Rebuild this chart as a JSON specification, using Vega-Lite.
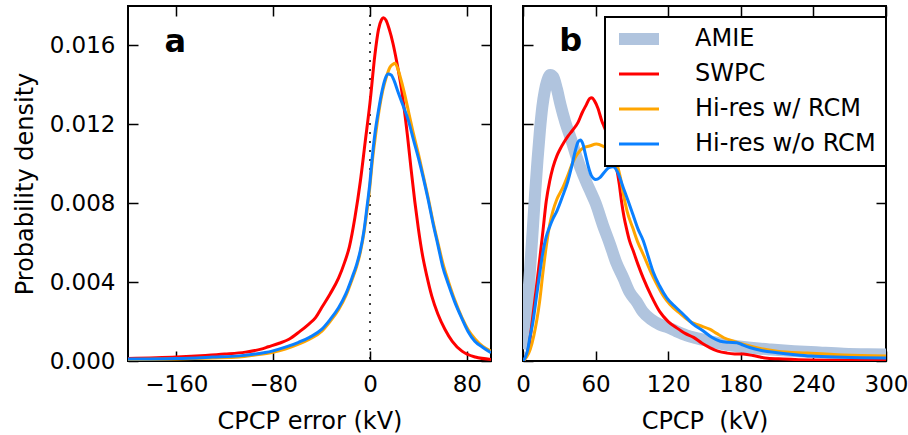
{
  "$schema": "https://vega.github.io/schema/vega-lite/v6.json",
  "padding": {"left": 12, "top": 4, "right": 0, "bottom": 3},
  "config": {
    "font": "DejaVu Sans",
    "view": {"stroke": "black", "strokeWidth": 2},
    "axis": {"domain": false, "ticks": false, "labelFontSize": 23, "labelColor": "black", "titleFontSize": 24, "titleFontWeight": "normal", "titleColor": "black", "labelFlush": false, "labelOverlap": false}
  },
  "datasets": {
    "a": [
      {"series": "SWPC", "x": -200, "y": 0.00013}, {"series": "SWPC", "x": -160, "y": 0.0002}, {"series": "SWPC", "x": -136, "y": 0.00028}, {"series": "SWPC", "x": -120, "y": 0.00035}, {"series": "SWPC", "x": -103, "y": 0.00045}, {"series": "SWPC", "x": -90, "y": 0.0006}, {"series": "SWPC", "x": -84, "y": 0.00072}, {"series": "SWPC", "x": -75, "y": 0.0009}, {"series": "SWPC", "x": -67, "y": 0.0011}, {"series": "SWPC", "x": -58, "y": 0.0015}, {"series": "SWPC", "x": -51, "y": 0.00185}, {"series": "SWPC", "x": -45, "y": 0.0022}, {"series": "SWPC", "x": -40, "y": 0.0027}, {"series": "SWPC", "x": -33, "y": 0.0034}, {"series": "SWPC", "x": -26, "y": 0.0042}, {"series": "SWPC", "x": -21, "y": 0.005}, {"series": "SWPC", "x": -17, "y": 0.0058}, {"series": "SWPC", "x": -12.4, "y": 0.0073}, {"series": "SWPC", "x": -8, "y": 0.0091}, {"series": "SWPC", "x": -4, "y": 0.0111}, {"series": "SWPC", "x": 0, "y": 0.0131}, {"series": "SWPC", "x": 4, "y": 0.0155}, {"series": "SWPC", "x": 7, "y": 0.0168}, {"series": "SWPC", "x": 9.5, "y": 0.0173}, {"series": "SWPC", "x": 11, "y": 0.0174}, {"series": "SWPC", "x": 13, "y": 0.0173}, {"series": "SWPC", "x": 16, "y": 0.0168}, {"series": "SWPC", "x": 19, "y": 0.0161}, {"series": "SWPC", "x": 22, "y": 0.0152}, {"series": "SWPC", "x": 26, "y": 0.0138}, {"series": "SWPC", "x": 31, "y": 0.0114}, {"series": "SWPC", "x": 34, "y": 0.0097}, {"series": "SWPC", "x": 37, "y": 0.0081}, {"series": "SWPC", "x": 40, "y": 0.0067}, {"series": "SWPC", "x": 43, "y": 0.0055}, {"series": "SWPC", "x": 47, "y": 0.0043}, {"series": "SWPC", "x": 51, "y": 0.0033}, {"series": "SWPC", "x": 56, "y": 0.0024}, {"series": "SWPC", "x": 62, "y": 0.0016}, {"series": "SWPC", "x": 68, "y": 0.001}, {"series": "SWPC", "x": 76, "y": 0.0005}, {"series": "SWPC", "x": 87, "y": 0.0002}, {"series": "SWPC", "x": 100, "y": 0.00008},
      {"series": "Hi-res w/ RCM", "x": -200, "y": 0.00007}, {"series": "Hi-res w/ RCM", "x": -160, "y": 0.0001}, {"series": "Hi-res w/ RCM", "x": -130, "y": 0.00015}, {"series": "Hi-res w/ RCM", "x": -108, "y": 0.0002}, {"series": "Hi-res w/ RCM", "x": -95, "y": 0.0003}, {"series": "Hi-res w/ RCM", "x": -81, "y": 0.00043}, {"series": "Hi-res w/ RCM", "x": -70, "y": 0.0006}, {"series": "Hi-res w/ RCM", "x": -59, "y": 0.00085}, {"series": "Hi-res w/ RCM", "x": -50, "y": 0.0011}, {"series": "Hi-res w/ RCM", "x": -40, "y": 0.0015}, {"series": "Hi-res w/ RCM", "x": -33, "y": 0.002}, {"series": "Hi-res w/ RCM", "x": -26, "y": 0.0026}, {"series": "Hi-res w/ RCM", "x": -20, "y": 0.0033}, {"series": "Hi-res w/ RCM", "x": -15, "y": 0.0041}, {"series": "Hi-res w/ RCM", "x": -11, "y": 0.0048}, {"series": "Hi-res w/ RCM", "x": -8, "y": 0.0055}, {"series": "Hi-res w/ RCM", "x": -5, "y": 0.0065}, {"series": "Hi-res w/ RCM", "x": -2.5, "y": 0.0076}, {"series": "Hi-res w/ RCM", "x": 0, "y": 0.0089}, {"series": "Hi-res w/ RCM", "x": 1.7, "y": 0.01}, {"series": "Hi-res w/ RCM", "x": 4.5, "y": 0.0114}, {"series": "Hi-res w/ RCM", "x": 7.5, "y": 0.0127}, {"series": "Hi-res w/ RCM", "x": 10.5, "y": 0.0137}, {"series": "Hi-res w/ RCM", "x": 13.5, "y": 0.0144}, {"series": "Hi-res w/ RCM", "x": 16.5, "y": 0.0149}, {"series": "Hi-res w/ RCM", "x": 19, "y": 0.01505}, {"series": "Hi-res w/ RCM", "x": 20.5, "y": 0.0151}, {"series": "Hi-res w/ RCM", "x": 22.5, "y": 0.0149}, {"series": "Hi-res w/ RCM", "x": 25, "y": 0.0144}, {"series": "Hi-res w/ RCM", "x": 28, "y": 0.0137}, {"series": "Hi-res w/ RCM", "x": 32, "y": 0.0126}, {"series": "Hi-res w/ RCM", "x": 36, "y": 0.0115}, {"series": "Hi-res w/ RCM", "x": 40, "y": 0.0105}, {"series": "Hi-res w/ RCM", "x": 44, "y": 0.0094}, {"series": "Hi-res w/ RCM", "x": 48, "y": 0.0083}, {"series": "Hi-res w/ RCM", "x": 52, "y": 0.0071}, {"series": "Hi-res w/ RCM", "x": 56.5, "y": 0.0059}, {"series": "Hi-res w/ RCM", "x": 60, "y": 0.005}, {"series": "Hi-res w/ RCM", "x": 65, "y": 0.004}, {"series": "Hi-res w/ RCM", "x": 70, "y": 0.0031}, {"series": "Hi-res w/ RCM", "x": 76, "y": 0.0022}, {"series": "Hi-res w/ RCM", "x": 81, "y": 0.0016}, {"series": "Hi-res w/ RCM", "x": 87, "y": 0.0011}, {"series": "Hi-res w/ RCM", "x": 93, "y": 0.00075}, {"series": "Hi-res w/ RCM", "x": 100, "y": 0.0005},
      {"series": "Hi-res w/o RCM", "x": -200, "y": 0.0001}, {"series": "Hi-res w/o RCM", "x": -160, "y": 0.00013}, {"series": "Hi-res w/o RCM", "x": -130, "y": 0.0002}, {"series": "Hi-res w/o RCM", "x": -108, "y": 0.00026}, {"series": "Hi-res w/o RCM", "x": -95, "y": 0.00035}, {"series": "Hi-res w/o RCM", "x": -81, "y": 0.0005}, {"series": "Hi-res w/o RCM", "x": -70, "y": 0.0007}, {"series": "Hi-res w/o RCM", "x": -59, "y": 0.00095}, {"series": "Hi-res w/o RCM", "x": -50, "y": 0.0012}, {"series": "Hi-res w/o RCM", "x": -40, "y": 0.0016}, {"series": "Hi-res w/o RCM", "x": -33, "y": 0.0021}, {"series": "Hi-res w/o RCM", "x": -26, "y": 0.0027}, {"series": "Hi-res w/o RCM", "x": -20, "y": 0.0034}, {"series": "Hi-res w/o RCM", "x": -15, "y": 0.0042}, {"series": "Hi-res w/o RCM", "x": -11, "y": 0.0049}, {"series": "Hi-res w/o RCM", "x": -8, "y": 0.0056}, {"series": "Hi-res w/o RCM", "x": -5, "y": 0.0066}, {"series": "Hi-res w/o RCM", "x": -2.7, "y": 0.0077}, {"series": "Hi-res w/o RCM", "x": 0, "y": 0.0091}, {"series": "Hi-res w/o RCM", "x": 1.5, "y": 0.0101}, {"series": "Hi-res w/o RCM", "x": 4, "y": 0.0115}, {"series": "Hi-res w/o RCM", "x": 7, "y": 0.0127}, {"series": "Hi-res w/o RCM", "x": 10, "y": 0.0137}, {"series": "Hi-res w/o RCM", "x": 12.5, "y": 0.0143}, {"series": "Hi-res w/o RCM", "x": 15, "y": 0.01455}, {"series": "Hi-res w/o RCM", "x": 17.5, "y": 0.0145}, {"series": "Hi-res w/o RCM", "x": 20, "y": 0.0142}, {"series": "Hi-res w/o RCM", "x": 23.4, "y": 0.0136}, {"series": "Hi-res w/o RCM", "x": 27, "y": 0.013}, {"series": "Hi-res w/o RCM", "x": 31.7, "y": 0.0122}, {"series": "Hi-res w/o RCM", "x": 36, "y": 0.0112}, {"series": "Hi-res w/o RCM", "x": 40, "y": 0.0103}, {"series": "Hi-res w/o RCM", "x": 44, "y": 0.0093}, {"series": "Hi-res w/o RCM", "x": 48, "y": 0.0082}, {"series": "Hi-res w/o RCM", "x": 52, "y": 0.007}, {"series": "Hi-res w/o RCM", "x": 56.4, "y": 0.0058}, {"series": "Hi-res w/o RCM", "x": 60, "y": 0.0048}, {"series": "Hi-res w/o RCM", "x": 64.7, "y": 0.0039}, {"series": "Hi-res w/o RCM", "x": 70, "y": 0.003}, {"series": "Hi-res w/o RCM", "x": 75.6, "y": 0.0022}, {"series": "Hi-res w/o RCM", "x": 81, "y": 0.0015}, {"series": "Hi-res w/o RCM", "x": 86.6, "y": 0.001}, {"series": "Hi-res w/o RCM", "x": 93, "y": 0.0007}, {"series": "Hi-res w/o RCM", "x": 100, "y": 0.00042}
    ],
    "b": [
      {"series": "AMIE", "x": 0, "y": 0.0006}, {"series": "AMIE", "x": 2, "y": 0.0015}, {"series": "AMIE", "x": 4, "y": 0.003}, {"series": "AMIE", "x": 6, "y": 0.0048}, {"series": "AMIE", "x": 8, "y": 0.0066}, {"series": "AMIE", "x": 10, "y": 0.0085}, {"series": "AMIE", "x": 12, "y": 0.0102}, {"series": "AMIE", "x": 14, "y": 0.0117}, {"series": "AMIE", "x": 16, "y": 0.0129}, {"series": "AMIE", "x": 18, "y": 0.0137}, {"series": "AMIE", "x": 20, "y": 0.0142}, {"series": "AMIE", "x": 22.5, "y": 0.0145}, {"series": "AMIE", "x": 25, "y": 0.0144}, {"series": "AMIE", "x": 28, "y": 0.0138}, {"series": "AMIE", "x": 31, "y": 0.013}, {"series": "AMIE", "x": 35, "y": 0.0121}, {"series": "AMIE", "x": 40, "y": 0.0112}, {"series": "AMIE", "x": 44, "y": 0.0104}, {"series": "AMIE", "x": 50, "y": 0.0094}, {"series": "AMIE", "x": 55, "y": 0.0087}, {"series": "AMIE", "x": 60, "y": 0.008}, {"series": "AMIE", "x": 66, "y": 0.0069}, {"series": "AMIE", "x": 72, "y": 0.0059}, {"series": "AMIE", "x": 77, "y": 0.005}, {"series": "AMIE", "x": 83, "y": 0.0042}, {"series": "AMIE", "x": 88, "y": 0.0035}, {"series": "AMIE", "x": 94, "y": 0.003}, {"series": "AMIE", "x": 99, "y": 0.0025}, {"series": "AMIE", "x": 106, "y": 0.0021}, {"series": "AMIE", "x": 113, "y": 0.00185}, {"series": "AMIE", "x": 120, "y": 0.0017}, {"series": "AMIE", "x": 127, "y": 0.0015}, {"series": "AMIE", "x": 135, "y": 0.0013}, {"series": "AMIE", "x": 144, "y": 0.00115}, {"series": "AMIE", "x": 155, "y": 0.001}, {"series": "AMIE", "x": 166, "y": 0.00085}, {"series": "AMIE", "x": 177, "y": 0.00075}, {"series": "AMIE", "x": 188, "y": 0.00067}, {"series": "AMIE", "x": 205, "y": 0.00058}, {"series": "AMIE", "x": 224, "y": 0.0005}, {"series": "AMIE", "x": 245, "y": 0.00043}, {"series": "AMIE", "x": 265, "y": 0.00037}, {"series": "AMIE", "x": 285, "y": 0.00034}, {"series": "AMIE", "x": 300, "y": 0.00033},
      {"series": "SWPC", "x": 0, "y": 0}, {"series": "SWPC", "x": 3, "y": 0.0003}, {"series": "SWPC", "x": 5, "y": 0.0008}, {"series": "SWPC", "x": 8, "y": 0.0022}, {"series": "SWPC", "x": 11, "y": 0.0037}, {"series": "SWPC", "x": 13.7, "y": 0.0051}, {"series": "SWPC", "x": 16.5, "y": 0.0066}, {"series": "SWPC", "x": 19.2, "y": 0.0081}, {"series": "SWPC", "x": 22, "y": 0.0091}, {"series": "SWPC", "x": 24.7, "y": 0.0098}, {"series": "SWPC", "x": 28, "y": 0.0104}, {"series": "SWPC", "x": 30.3, "y": 0.0107}, {"series": "SWPC", "x": 34, "y": 0.0111}, {"series": "SWPC", "x": 37.2, "y": 0.0114}, {"series": "SWPC", "x": 41, "y": 0.0117}, {"series": "SWPC", "x": 45.5, "y": 0.0121}, {"series": "SWPC", "x": 49, "y": 0.0126}, {"series": "SWPC", "x": 52.4, "y": 0.013}, {"series": "SWPC", "x": 55, "y": 0.0133}, {"series": "SWPC", "x": 57, "y": 0.01335}, {"series": "SWPC", "x": 59, "y": 0.0132}, {"series": "SWPC", "x": 62, "y": 0.0128}, {"series": "SWPC", "x": 65, "y": 0.0122}, {"series": "SWPC", "x": 67.6, "y": 0.0118}, {"series": "SWPC", "x": 71, "y": 0.0112}, {"series": "SWPC", "x": 74.5, "y": 0.0106}, {"series": "SWPC", "x": 77.3, "y": 0.0098}, {"series": "SWPC", "x": 79.5, "y": 0.009}, {"series": "SWPC", "x": 81.4, "y": 0.0081}, {"series": "SWPC", "x": 83.5, "y": 0.0073}, {"series": "SWPC", "x": 85.6, "y": 0.0067}, {"series": "SWPC", "x": 88, "y": 0.0061}, {"series": "SWPC", "x": 91, "y": 0.0056}, {"series": "SWPC", "x": 95, "y": 0.0049}, {"series": "SWPC", "x": 99.4, "y": 0.0042}, {"series": "SWPC", "x": 106, "y": 0.0033}, {"series": "SWPC", "x": 113, "y": 0.0025}, {"series": "SWPC", "x": 120, "y": 0.002}, {"series": "SWPC", "x": 127, "y": 0.00168}, {"series": "SWPC", "x": 134, "y": 0.0014}, {"series": "SWPC", "x": 141, "y": 0.0012}, {"series": "SWPC", "x": 148, "y": 0.0009}, {"series": "SWPC", "x": 154.7, "y": 0.00067}, {"series": "SWPC", "x": 161, "y": 0.0005}, {"series": "SWPC", "x": 168.6, "y": 0.0004}, {"series": "SWPC", "x": 175, "y": 0.00036}, {"series": "SWPC", "x": 182, "y": 0.00035}, {"series": "SWPC", "x": 190, "y": 0.00028}, {"series": "SWPC", "x": 196, "y": 0.0002}, {"series": "SWPC", "x": 202, "y": 0.00014}, {"series": "SWPC", "x": 215, "y": 0.0001}, {"series": "SWPC", "x": 238, "y": 0.00005}, {"series": "SWPC", "x": 270, "y": 0.00003}, {"series": "SWPC", "x": 300, "y": 0.00002},
      {"series": "Hi-res w/ RCM", "x": 0, "y": 0}, {"series": "Hi-res w/ RCM", "x": 3, "y": 0.0002}, {"series": "Hi-res w/ RCM", "x": 6, "y": 0.0006}, {"series": "Hi-res w/ RCM", "x": 9, "y": 0.0013}, {"series": "Hi-res w/ RCM", "x": 11.5, "y": 0.0021}, {"series": "Hi-res w/ RCM", "x": 13.7, "y": 0.003}, {"series": "Hi-res w/ RCM", "x": 16.5, "y": 0.0045}, {"series": "Hi-res w/ RCM", "x": 19.2, "y": 0.0058}, {"series": "Hi-res w/ RCM", "x": 22, "y": 0.0069}, {"series": "Hi-res w/ RCM", "x": 24.7, "y": 0.0076}, {"series": "Hi-res w/ RCM", "x": 28, "y": 0.0082}, {"series": "Hi-res w/ RCM", "x": 33, "y": 0.0088}, {"series": "Hi-res w/ RCM", "x": 37, "y": 0.0094}, {"series": "Hi-res w/ RCM", "x": 41.3, "y": 0.0101}, {"series": "Hi-res w/ RCM", "x": 45, "y": 0.0105}, {"series": "Hi-res w/ RCM", "x": 49.6, "y": 0.0108}, {"series": "Hi-res w/ RCM", "x": 55, "y": 0.0109}, {"series": "Hi-res w/ RCM", "x": 60.7, "y": 0.011}, {"series": "Hi-res w/ RCM", "x": 66, "y": 0.0109}, {"series": "Hi-res w/ RCM", "x": 71, "y": 0.0107}, {"series": "Hi-res w/ RCM", "x": 75, "y": 0.0104}, {"series": "Hi-res w/ RCM", "x": 78, "y": 0.0099}, {"series": "Hi-res w/ RCM", "x": 80.5, "y": 0.0093}, {"series": "Hi-res w/ RCM", "x": 82.8, "y": 0.0085}, {"series": "Hi-res w/ RCM", "x": 86, "y": 0.0076}, {"series": "Hi-res w/ RCM", "x": 91, "y": 0.0067}, {"series": "Hi-res w/ RCM", "x": 95, "y": 0.006}, {"series": "Hi-res w/ RCM", "x": 99.4, "y": 0.0054}, {"series": "Hi-res w/ RCM", "x": 105, "y": 0.0046}, {"series": "Hi-res w/ RCM", "x": 110.5, "y": 0.0039}, {"series": "Hi-res w/ RCM", "x": 116, "y": 0.0033}, {"series": "Hi-res w/ RCM", "x": 121.5, "y": 0.00286}, {"series": "Hi-res w/ RCM", "x": 130, "y": 0.0024}, {"series": "Hi-res w/ RCM", "x": 138, "y": 0.002}, {"series": "Hi-res w/ RCM", "x": 146, "y": 0.0018}, {"series": "Hi-res w/ RCM", "x": 154.7, "y": 0.0016}, {"series": "Hi-res w/ RCM", "x": 160, "y": 0.0014}, {"series": "Hi-res w/ RCM", "x": 166, "y": 0.00118}, {"series": "Hi-res w/ RCM", "x": 174, "y": 0.001}, {"series": "Hi-res w/ RCM", "x": 182, "y": 0.00085}, {"series": "Hi-res w/ RCM", "x": 195, "y": 0.00065}, {"series": "Hi-res w/ RCM", "x": 210, "y": 0.0005}, {"series": "Hi-res w/ RCM", "x": 235, "y": 0.0004}, {"series": "Hi-res w/ RCM", "x": 265, "y": 0.0003}, {"series": "Hi-res w/ RCM", "x": 300, "y": 0.00025},
      {"series": "Hi-res w/o RCM", "x": 0, "y": 0}, {"series": "Hi-res w/o RCM", "x": 2, "y": 0.0002}, {"series": "Hi-res w/o RCM", "x": 4, "y": 0.0006}, {"series": "Hi-res w/o RCM", "x": 5.4, "y": 0.0011}, {"series": "Hi-res w/o RCM", "x": 8, "y": 0.0019}, {"series": "Hi-res w/o RCM", "x": 11, "y": 0.0032}, {"series": "Hi-res w/o RCM", "x": 13.5, "y": 0.0043}, {"series": "Hi-res w/o RCM", "x": 16.4, "y": 0.0055}, {"series": "Hi-res w/o RCM", "x": 19.2, "y": 0.0063}, {"series": "Hi-res w/o RCM", "x": 22, "y": 0.0068}, {"series": "Hi-res w/o RCM", "x": 24.7, "y": 0.0072}, {"series": "Hi-res w/o RCM", "x": 28, "y": 0.0076}, {"series": "Hi-res w/o RCM", "x": 33, "y": 0.0084}, {"series": "Hi-res w/o RCM", "x": 37, "y": 0.0091}, {"series": "Hi-res w/o RCM", "x": 40, "y": 0.0098}, {"series": "Hi-res w/o RCM", "x": 43, "y": 0.0106}, {"series": "Hi-res w/o RCM", "x": 45.5, "y": 0.0111}, {"series": "Hi-res w/o RCM", "x": 47.4, "y": 0.0112}, {"series": "Hi-res w/o RCM", "x": 49.5, "y": 0.011}, {"series": "Hi-res w/o RCM", "x": 51.5, "y": 0.0105}, {"series": "Hi-res w/o RCM", "x": 53.8, "y": 0.0099}, {"series": "Hi-res w/o RCM", "x": 56.5, "y": 0.0094}, {"series": "Hi-res w/o RCM", "x": 60.1, "y": 0.0092}, {"series": "Hi-res w/o RCM", "x": 63.5, "y": 0.0093}, {"series": "Hi-res w/o RCM", "x": 67.6, "y": 0.0096}, {"series": "Hi-res w/o RCM", "x": 71, "y": 0.0098}, {"series": "Hi-res w/o RCM", "x": 74.5, "y": 0.00985}, {"series": "Hi-res w/o RCM", "x": 78, "y": 0.0096}, {"series": "Hi-res w/o RCM", "x": 82.8, "y": 0.0088}, {"series": "Hi-res w/o RCM", "x": 87, "y": 0.0081}, {"series": "Hi-res w/o RCM", "x": 91, "y": 0.0074}, {"series": "Hi-res w/o RCM", "x": 95, "y": 0.0067}, {"series": "Hi-res w/o RCM", "x": 99.4, "y": 0.0061}, {"series": "Hi-res w/o RCM", "x": 103.5, "y": 0.0053}, {"series": "Hi-res w/o RCM", "x": 107.7, "y": 0.0045}, {"series": "Hi-res w/o RCM", "x": 113, "y": 0.0038}, {"series": "Hi-res w/o RCM", "x": 118.8, "y": 0.0032}, {"series": "Hi-res w/o RCM", "x": 125, "y": 0.0028}, {"series": "Hi-res w/o RCM", "x": 132.6, "y": 0.00236}, {"series": "Hi-res w/o RCM", "x": 140, "y": 0.0019}, {"series": "Hi-res w/o RCM", "x": 149, "y": 0.00152}, {"series": "Hi-res w/o RCM", "x": 156, "y": 0.0012}, {"series": "Hi-res w/o RCM", "x": 163, "y": 0.001}, {"series": "Hi-res w/o RCM", "x": 170, "y": 0.00095}, {"series": "Hi-res w/o RCM", "x": 176.9, "y": 0.00093}, {"series": "Hi-res w/o RCM", "x": 182, "y": 0.0008}, {"series": "Hi-res w/o RCM", "x": 188, "y": 0.00067}, {"series": "Hi-res w/o RCM", "x": 198, "y": 0.00052}, {"series": "Hi-res w/o RCM", "x": 210, "y": 0.00042}, {"series": "Hi-res w/o RCM", "x": 225, "y": 0.00032}, {"series": "Hi-res w/o RCM", "x": 238, "y": 0.00025}, {"series": "Hi-res w/o RCM", "x": 265, "y": 0.00019}, {"series": "Hi-res w/o RCM", "x": 300, "y": 0.00015}
    ]
  },
  "spacing": 32,
  "bounds": "flush",
  "resolve": {"scale": {"color": "independent"}},
  "hconcat": [
    {
      "width": 363, "height": 355,
      "layer": [
        {
          "data": {"values": [{}]},
          "mark": {"type": "rule", "color": "black", "strokeWidth": 1.5, "strokeDash": [2, 7]},
          "encoding": {"x": {"datum": 0, "type": "quantitative"}}
        },
        {
          "data": {"name": "a"},
          "mark": {"type": "line", "interpolate": "monotone", "clip": true, "strokeWidth": 3},
          "encoding": {
            "x": {"field": "x", "type": "quantitative", "scale": {"domain": [-200, 100], "nice": false, "zero": false}, "axis": {"values": [-160, -80, 0, 80], "title": "CPCP error (kV)", "labelPadding": 12, "titlePadding": 13, "grid": true, "gridDash": [10, 335], "gridColor": "black", "gridOpacity": 1, "gridWidth": 1.5}},
            "y": {"field": "y", "type": "quantitative", "scale": {"domain": [0, 0.018], "nice": false}, "axis": {"values": [0, 0.004, 0.008, 0.012, 0.016], "format": ".3f", "title": "Probability density", "labelPadding": 13, "titlePadding": 12, "grid": true, "gridDash": [10, 343], "gridColor": "black", "gridOpacity": 1, "gridWidth": 1.5}},
            "color": {"field": "series", "type": "nominal", "scale": {"domain": ["AMIE", "SWPC", "Hi-res w/ RCM", "Hi-res w/o RCM"], "range": ["#b0c4de", "#ff0000", "#ffa500", "#0a80ff"]}, "legend": null}
          }
        },
        {
          "data": {"values": [{}]},
          "mark": {"type": "text", "text": "a", "fontSize": 32, "fontWeight": "bold", "align": "center", "baseline": "alphabetic", "color": "black"},
          "encoding": {"x": {"datum": -161, "type": "quantitative"}, "y": {"datum": 0.01566, "type": "quantitative"}}
        }
      ]
    },
    {
      "width": 363, "height": 355,
      "layer": [
        {
          "data": {"name": "b"},
          "transform": [{"filter": "datum.series === 'AMIE'"}],
          "mark": {"type": "line", "interpolate": "monotone", "clip": true, "strokeWidth": 12},
          "encoding": {
            "x": {"field": "x", "type": "quantitative", "scale": {"domain": [0, 300], "nice": false, "zero": false}, "axis": {"values": [0, 60, 120, 180, 240, 300], "title": "CPCP \u00a0(kV)", "labelPadding": 12, "titlePadding": 13, "grid": true, "gridDash": [10, 335], "gridColor": "black", "gridOpacity": 1, "gridWidth": 1.5}},
            "y": {"field": "y", "type": "quantitative", "scale": {"domain": [0, 0.018], "nice": false}, "axis": {"values": [0, 0.004, 0.008, 0.012, 0.016], "labels": false, "title": null, "grid": true, "gridDash": [10, 343], "gridColor": "black", "gridOpacity": 1, "gridWidth": 1.5}},
            "color": {"field": "series", "type": "nominal", "scale": {"domain": ["AMIE", "SWPC", "Hi-res w/ RCM", "Hi-res w/o RCM"], "range": ["#b0c4de", "#ff0000", "#ffa500", "#0a80ff"]}, "legend": {"orient": "none", "legendX": 82, "legendY": 11, "title": null, "symbolType": "stroke", "symbolSize": 1600, "symbolStrokeWidth": 3, "symbolOffset": 12, "labelFontSize": 24, "labelColor": "black", "padding": 10, "rowPadding": 11, "strokeColor": "black", "fillColor": "white", "labelOffset": 44, "labelLimit": 400, "encode": {"legend": {"update": {"strokeWidth": {"value": 2}}}, "symbols": {"update": {"strokeWidth": {"signal": "datum.value === 'AMIE' ? 12 : 3"}, "strokeJoin": {"value": "bevel"}, "strokeCap": {"value": "butt"}}}}}}
          }
        },
        {
          "data": {"name": "b"},
          "transform": [{"filter": "datum.series !== 'AMIE'"}],
          "mark": {"type": "line", "interpolate": "monotone", "clip": true, "strokeWidth": 3},
          "encoding": {
            "x": {"field": "x", "type": "quantitative"},
            "y": {"field": "y", "type": "quantitative"},
            "color": {"field": "series", "type": "nominal"}
          }
        },
        {
          "data": {"values": [{}]},
          "mark": {"type": "text", "text": "b", "fontSize": 32, "fontWeight": "bold", "align": "center", "baseline": "alphabetic", "color": "black"},
          "encoding": {"x": {"datum": 39.5, "type": "quantitative"}, "y": {"datum": 0.0157, "type": "quantitative"}}
        }
      ]
    }
  ]
}
